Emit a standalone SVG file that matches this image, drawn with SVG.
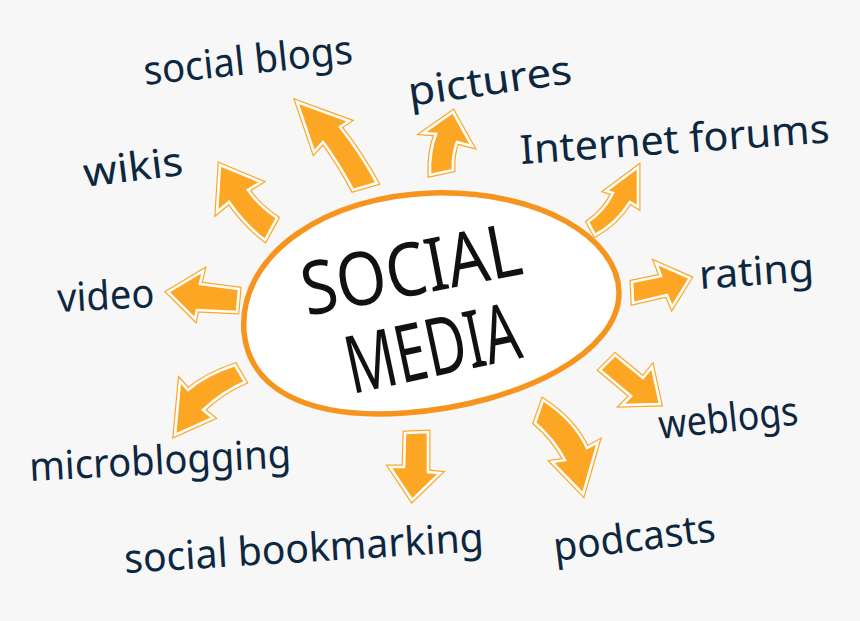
<svg xmlns="http://www.w3.org/2000/svg" xmlns:xlink="http://www.w3.org/1999/xlink" width="860" height="621" viewBox="0 0 860 621">
<style>
.ao{fill:#fda623;stroke:#fda623;stroke-width:5;stroke-linejoin:miter}
.ai{fill:#fda623;stroke:#ffffff;stroke-width:2.6;stroke-linejoin:miter}
.lbl{font-family:"Noto Sans","DejaVu Sans",sans-serif;font-size:40px;fill:#0d2740}
.big{font-family:"Noto Sans","DejaVu Sans",sans-serif;fill:#111111}
</style>
<defs>
<path id="p-blogs" d="M353,190 Q338,162 323,142 L314,152 L297,102 L349,121 L340,127 Q360,152 377,183 Z"/>
<path id="p-pictures" d="M430,175 Q429,152 436,134 L423,133 L453,112 L472,146 L457,142 Q452,156 453,170 Z"/>
<path id="p-forums" d="M588,222 Q605,210 613,193 L606,191 L638,167 L638,207 L630,202 Q616,224 595,235 Z"/>
<path id="p-rating" d="M632,282 L661,276 L656,263 L690,278 L672,307 L667,295 L633,303 Z"/>
<path id="p-weblogs" d="M615,355 L643,378 L652,367 L660,404 L622,405 L631,396 L600,370 Z"/>
<path id="p-podcasts" d="M543,400 Q574,420 587,448 L598,442 L583,494 L552,462 L565,460 Q553,438 535,423 Z"/>
<path id="p-bookmarking" d="M405,433 L428,432 L428,472 L440,473 L412,500 L390,467 L404,467 Z"/>
<path id="p-micro" d="M235,365 Q205,375 188,390 L180,381 L175,435 L213,418 L203,410 Q222,392 245,382 Z"/>
<path id="p-video" d="M239,289 L200,284 L203,271 L168,292 L195,319 L197,310 L237,312 Z"/>
<path id="p-wikis" d="M277,218 Q258,205 248,190 L261,182 L220,165 L217,212 L229,202 Q246,226 265,240 Z"/>
</defs>
<rect x="0" y="0" width="860" height="621" fill="#f7f7f7"/>
<g id="connectors">
<use href="#p-blogs" class="ao"/><use href="#p-blogs" class="ai"/>
<use href="#p-pictures" class="ao"/><use href="#p-pictures" class="ai"/>
<use href="#p-forums" class="ao"/><use href="#p-forums" class="ai"/>
<use href="#p-rating" class="ao"/><use href="#p-rating" class="ai"/>
<use href="#p-weblogs" class="ao"/><use href="#p-weblogs" class="ai"/>
<use href="#p-podcasts" class="ao"/><use href="#p-podcasts" class="ai"/>
<use href="#p-bookmarking" class="ao"/><use href="#p-bookmarking" class="ai"/>
<use href="#p-micro" class="ao"/><use href="#p-micro" class="ai"/>
<use href="#p-video" class="ao"/><use href="#p-video" class="ai"/>
<use href="#p-wikis" class="ao"/><use href="#p-wikis" class="ai"/>
</g>
<g id="center">
<path d="M244,332 C238,252 330,196 432,193 C540,190 618,238 619,292 C620,352 522,404 405,413 C302,420 249,386 244,332 Z" fill="#ffffff" stroke="#f7941d" stroke-width="5.5"/>
<text class="big" x="307" y="316" font-size="74" textLength="222" lengthAdjust="spacingAndGlyphs" transform="rotate(-11 307 316)">SOCIAL</text>
<text class="big" x="352" y="394" font-size="80" textLength="176" lengthAdjust="spacingAndGlyphs" transform="rotate(-12 352 394)">MEDIA</text>
</g>
<g id="n-social-blogs"><text class="lbl" x="145" y="85" textLength="210" lengthAdjust="spacingAndGlyphs" transform="rotate(-6 145 85)">social blogs</text></g>
<g id="n-pictures"><text class="lbl" x="410" y="106" textLength="165" lengthAdjust="spacingAndGlyphs" transform="rotate(-8 410 106)">pictures</text></g>
<g id="n-internet-forums"><text class="lbl" x="521" y="164" font-size="44" textLength="310" lengthAdjust="spacingAndGlyphs" transform="rotate(-4 521 164)">Internet forums</text></g>
<g id="n-wikis"><text class="lbl" x="85" y="187" textLength="100" lengthAdjust="spacingAndGlyphs" transform="rotate(-7 85 187)">wikis</text></g>
<g id="n-rating"><text class="lbl" x="700" y="289" textLength="115" lengthAdjust="spacingAndGlyphs" transform="rotate(-4 700 289)">rating</text></g>
<g id="n-video"><text class="lbl" x="58" y="312" textLength="97" lengthAdjust="spacingAndGlyphs" transform="rotate(-3 58 312)">video</text></g>
<g id="n-weblogs"><text class="lbl" x="660" y="439" textLength="140" lengthAdjust="spacingAndGlyphs" transform="rotate(-6 660 439)">weblogs</text></g>
<g id="n-microblogging"><text class="lbl" x="30" y="481" textLength="262" lengthAdjust="spacingAndGlyphs" transform="rotate(-3 30 481)">microblogging</text></g>
<g id="n-social-bookmarking"><text class="lbl" x="125" y="573" textLength="360" lengthAdjust="spacingAndGlyphs" transform="rotate(-3.5 125 573)">social bookmarking</text></g>
<g id="n-podcasts"><text class="lbl" x="555" y="561" textLength="163" lengthAdjust="spacingAndGlyphs" transform="rotate(-7 555 561)">podcasts</text></g>
</svg>
